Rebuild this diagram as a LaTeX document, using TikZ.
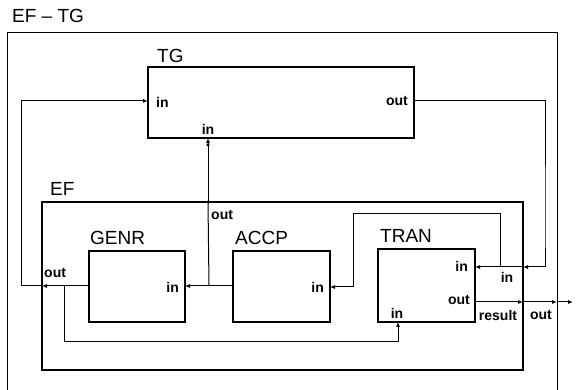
\documentclass[tikz,border=0pt]{standalone}
\usepackage{fontspec}
\setmainfont{Liberation Sans}
\usepackage{tikz}
\usetikzlibrary{arrows.meta, positioning, calc}

\begin{document}
\begin{tikzpicture}[
        x=1pt, y=-1pt,
        block/.style={rectangle, draw, line width=1.2pt, fill=white, inner sep=0pt},
        blocktitle/.style={font=\fontsize{19}{19}\selectfont, inner sep=0pt, anchor=west},
        port/.style={font=\bfseries\fontsize{14}{14}\selectfont, inner sep=0pt},
        wire/.style={line width=1pt},
        flow/.style={wire, -{Latex[length=5pt, width=4pt]}},
        joint/.style={circle, fill, inner sep=0pt, minimum size=3.5pt}
    ]
    \useasboundingbox (0,0) rectangle (579,390);
    \clip (0,0) rectangle (579,390);

    % Outer system EF - TG
    \draw[line width=1pt] (7,33) rectangle (557,400);
    \node[blocktitle] (sysname) at (12,16) {EF – TG};

    % Blocks
    \node[block, minimum width=266pt, minimum height=71pt] (tg) at (281,102.5) {};
    \node[blocktitle] (tgname) at (157,56) {TG};
    \node[block, minimum width=481pt, minimum height=168pt] (ef) at (282.5,286) {};
    \node[blocktitle] (efname) at (50,189) {EF};
    \node[block, minimum width=96pt, minimum height=71pt] (genr) at (137,286.5) {};
    \node[blocktitle] (genrname) at (90,238) {GENR};
    \node[block, minimum width=97pt, minimum height=71pt] (accp) at (281.5,286.5) {};
    \node[blocktitle] (accpname) at (235,238) {ACCP};
    \node[block, minimum width=97pt, minimum height=73pt] (tran) at (426.5,285.5) {};
    \node[blocktitle] (tranname) at (380,236) {TRAN};

    % Ports
    \coordinate (tgIn) at (148,101);
    \coordinate (tgInB) at (208,138);
    \coordinate (tgOut) at (414,101);
    \coordinate (efOutT) at (208,202);
    \coordinate (efOutL) at (42,286);
    \coordinate (efIn) at (523,267);
    \coordinate (efOut) at (523,302);
    \coordinate (genrIn) at (185,286);
    \coordinate (genrOut) at (89,286);
    \coordinate (accpIn) at (330,287);
    \coordinate (accpOut) at (233,286);
    \coordinate (tranIn) at (475,267);
    \coordinate (tranOut) at (475,302);
    \coordinate (tranInB) at (398,322);
    \coordinate (sysOut) at (557,302);
    \coordinate (sysEnd) at (573,302);

    % Port labels
    \node[port, anchor=west] (lTgIn) at (156,102) {in};
    \node[port] (lTgInB) at (208,129) {in};
    \node[port, anchor=east] (lTgOut) at (408,101) {out};
    \node[port, anchor=west] (lEfOutT) at (211,215) {out};
    \node[port, anchor=west] (lEfOutL) at (44,273) {out};
    \node[port, anchor=east] (lGenrIn) at (179,287) {in};
    \node[port, anchor=east] (lAccpIn) at (324,287) {in};
    \node[port, anchor=east] (lTranIn) at (468,266) {in};
    \node[port, anchor=east] (lTranOut) at (470,300) {out};
    \node[port] (lTranInB) at (397,313) {in};
    \node[port] (lEfIn) at (507,277) {in};
    \node[port] (lEfOut) at (498,315) {result};
    \node[port] (lSysOut) at (541,315) {out};

    % Connections
    \draw[flow] (tgOut) -| (545,230) |- (efIn);
    \draw[flow] (efIn) -- (tranIn);
    \draw[flow] (500,267) |- (353,214) |- (accpIn);
    \draw[flow] (accpOut) -- (genrIn);
    \draw[wire] (209,286) -- (efOutT);
    \draw[flow] (efOutT) -- (tgInB);
    \node[joint] (jEfOutT) at (efOutT) {};
    \node[joint] (jTgInB) at (208,145) {};
    \draw[flow] (genrOut) -- (efOutL);
    \draw[flow] (efOutL) -- (21,286) |- (tgIn);
    \draw[flow] (64,286) |- (398,342) -- (tranInB);
    \draw[flow] (tranOut) -- (efOut);
    \draw[flow] (efOut) -- (sysOut);
    \draw[flow] (sysOut) -- (sysEnd);
\end{tikzpicture}
\end{document}
